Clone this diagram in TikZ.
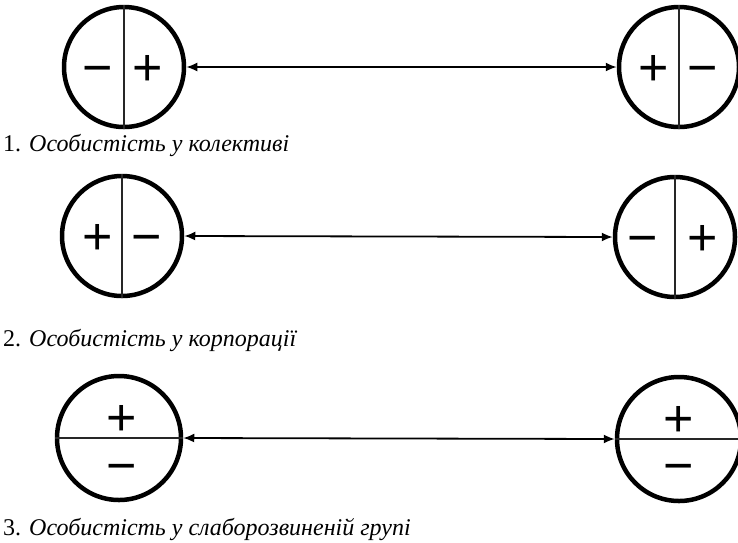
\documentclass[tikz,border=0pt]{standalone}
\usepackage{fontspec}
\setmainfont{Liberation Serif}
\newfontfamily\signfont{Liberation Sans}
\usetikzlibrary{arrows.meta,calc}

\begin{document}
\begin{tikzpicture}[x=1pt, y=-1pt,
  rolecircle/.style={draw, circle, line width=4.5pt, minimum size=120pt, inner sep=0pt},
  signmark/.style={anchor=base, inner sep=0pt, yshift=-18pt, font=\signfont\fontsize{52}{52}\selectfont},
  divider/.style={line width=1.2pt, black!85},
  link/.style={{Latex[length=11pt,width=9pt]}-{Latex[length=11pt,width=9pt]}, line width=1.8pt},
  caption/.style={anchor=base west, inner sep=0pt, font=\fontsize{24}{28}\selectfont}]
\useasboundingbox (0,0) rectangle (738,542);
% row 1
\node[rolecircle] (c1l) at (124,67) {};
\node[rolecircle] (c1r) at (679,67) {};
\draw[divider] (c1l.north) -- (c1l.south);
\draw[divider] (c1r.north) -- (c1r.south);
\node[signmark] (m1l) at ($(c1l)+(-26,0)$) {−};
\node[signmark] (p1l) at ($(c1l)+(24,0)$) {+};
\node[signmark] (p1r) at ($(c1r)+(-25,0)$) {+};
\node[signmark] (m1r) at ($(c1r)+(24,0)$) {−};
\draw[link] (c1l.east) -- (c1r.west);
\node[caption] (cap1) at (3,151) {1. \textit{Особистість у колективі}};
% row 2
\node[rolecircle] (c2l) at (122,236) {};
\node[rolecircle] (c2r) at (675,237) {};
\draw[divider] (c2l.north) -- (c2l.south);
\draw[divider] (c2r.north) -- (c2r.south);
\node[signmark] (p2l) at ($(c2l)+(-24,0)$) {+};
\node[signmark] (m2l) at ($(c2l)+(25,0)$) {−};
\node[signmark] (m2r) at ($(c2r)+(-32,0)$) {−};
\node[signmark] (p2r) at ($(c2r)+(28,0)$) {+};
\draw[link] (c2l.east) -- (c2r.west);
\node[caption] (cap2) at (3,346) {2. \textit{Особистість у корпорації}};
% row 3
\node[rolecircle, minimum size=124pt] (c3l) at (119,438) {};
\node[rolecircle, minimum size=124pt] (c3r) at (679,439) {};
\draw[divider] (c3l.west) -- (c3l.east);
\draw[divider] (c3r.west) -- (c3r.east);
\node[signmark] (p3l) at ($(c3l)+(3,-21)$) {+};
\node[signmark] (m3l) at ($(c3l)+(3,27)$) {−};
\node[signmark] (p3r) at ($(c3r)+(0,-21)$) {+};
\node[signmark] (m3r) at ($(c3r)+(0,26)$) {−};
\draw[link] (c3l.east) -- (c3r.west);
\node[caption] (cap3) at (3,535) {3. \textit{Особистість у слаборозвиненій групі}};
\end{tikzpicture}
\end{document}
